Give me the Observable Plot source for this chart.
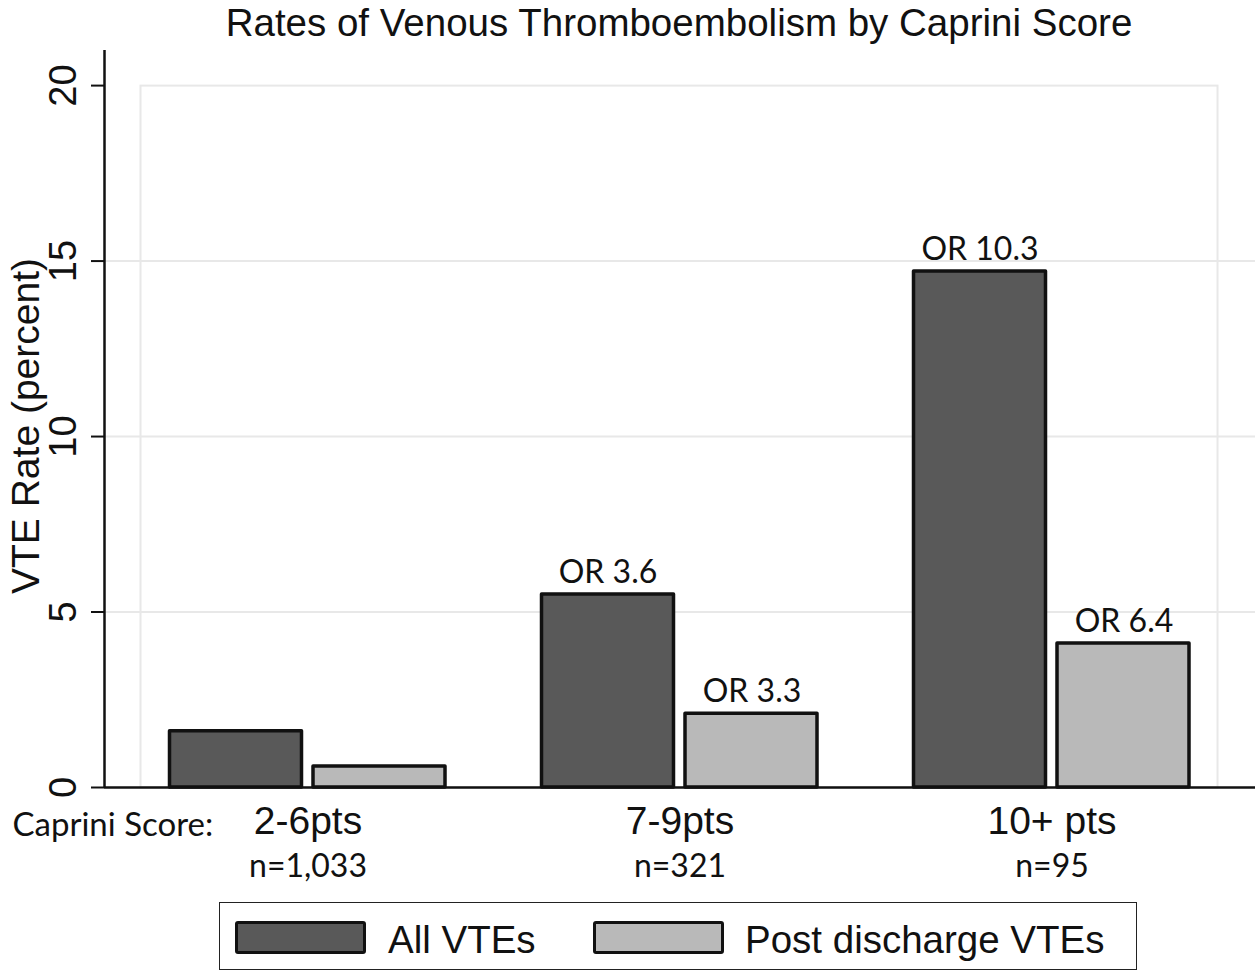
<!DOCTYPE html>
<html><head><meta charset="utf-8">
<script src="https://cdn.jsdelivr.net/npm/d3@7"></script>
<script src="https://cdn.jsdelivr.net/npm/@observablehq/plot@0.6"></script>
<style>
body{margin:0;background:#fff;width:1260px;overflow:hidden;}
#title{height:46px;line-height:46px;font-size:38.5px;font-family:"Liberation Sans",Arial,sans-serif;text-align:center;padding-left:98px;white-space:nowrap;color:#111;}
#chart svg{display:block;}
#legend{position:relative;height:80px;width:1260px;font-family:"Liberation Sans",Arial,sans-serif;}
#legend .box{position:absolute;left:219px;top:4px;width:918px;height:68px;border:1.5px solid #222;box-sizing:border-box;}
#legend .sw{position:absolute;top:23px;width:131px;height:33px;border:3.5px solid #111;border-radius:3px;box-sizing:border-box;}
#legend .lab{position:absolute;top:22.5px;font-size:38.5px;line-height:38.5px;white-space:nowrap;color:#111;}
</style></head><body>
<div id="title">Rates of Venous Thromboembolism by Caprini Score</div>
<div id="chart"></div>
<div id="legend"></div>
<script>
// ---- data ----
const groups = ["2-6pts", "7-9pts", "10+ pts"];
const groupN = ["n=1,033", "n=321", "n=95"];
const series = ["All VTEs", "Post discharge VTEs"];
const allVTE = [1.6, 5.5, 14.7];
const postVTE = [0.6, 2.1, 4.1];
const orAll = ["", "OR 3.6", "OR 10.3"];
const orPost = ["", "OR 3.3", "OR 6.4"];
const yTicks = [0, 5, 10, 15, 20];
const yLabel = "VTE Rate (percent)";
const xLead = "Caprini Score:";
const colors = ["#595959", "#b9b9b9"];

// ---- tables built from the arrays ----
const allRows = groups.map((g, i) => ({group: g, value: allVTE[i], or: orAll[i]}));
const postRows = groups.map((g, i) => ({group: g, value: postVTE[i], or: orPost[i]}));
const nRows = groups.map((g, i) => ({group: g, n: groupN[i]}));

const W = 1260, H = 852, ML = 104, MR = 5;
const sans = "'Liberation Sans', Arial, sans-serif";
const cal = "Lato, 'Open Sans', sans-serif";

const chart = Plot.plot({
  width: W, height: H,
  marginLeft: ML, marginRight: MR, marginTop: 4, marginBottom: 111,
  x: {domain: groups, paddingInner: 0.25, paddingOuter: 0.172, label: null},
  y: {domain: [0, 21], label: null},
  style: {fontFamily: sans, background: "white", color: "#111"},
  marks: [
    Plot.ruleY([5, 10, 15], {stroke: "#e8e8e8", strokeWidth: 2}),
    Plot.frame({stroke: "#e8e8e8", strokeWidth: 2, insetLeft: 36, insetRight: 38, insetTop: 35.1}),
    Plot.barY(allRows, {x: "group", y: "value", fill: colors[0], stroke: "#111", strokeWidth: 3.5, strokeLinejoin: "round", insetLeft: 1.5, insetRight: 145.5}),
    Plot.barY(postRows, {x: "group", y: "value", fill: colors[1], stroke: "#111", strokeWidth: 3.5, strokeLinejoin: "round", insetLeft: 145, insetRight: 2}),
    Plot.text(allRows.filter(d => d.or), {x: "group", y: "value", text: "or", dx: -72, dy: -11.5, lineAnchor: "bottom", fontFamily: cal, fontSize: 32, fill: "#111"}),
    Plot.text(postRows.filter(d => d.or), {x: "group", y: "value", text: "or", dx: 72, dy: -11.5, lineAnchor: "bottom", fontFamily: cal, fontSize: 32, fill: "#111"}),
    Plot.ruleY([0], {stroke: "#111", strokeWidth: 2.5}),
    Plot.ruleX([0], {x: null, y1: 0, y2: 21, stroke: "#111", strokeWidth: 2.5, dx: ML - (ML + W - MR) / 2}),
    Plot.axisY({ticks: yTicks, tickSize: 13, tickPadding: 16, tickRotate: -90, fontSize: 38, strokeWidth: 2, stroke: "#111", label: null}),
    Plot.axisX({tickSize: 0, tickPadding: 19, fontSize: 39, label: null}),
    Plot.text(nRows, {x: "group", text: "n", frameAnchor: "bottom", lineAnchor: "top", dy: 67, fontFamily: cal, fontSize: 32, fill: "#111"}),
    Plot.text([xLead], {frameAnchor: "bottom-left", textAnchor: "start", lineAnchor: "bottom", dx: -92, dy: 48, fontFamily: cal, fontSize: 33, fill: "#111"}),
    Plot.text([yLabel], {frameAnchor: "left", rotate: -90, textAnchor: "middle", lineAnchor: "bottom", dx: -66, dy: 7, fontSize: 39, fill: "#111"})
  ]
});
document.getElementById("chart").appendChild(chart);

// ---- legend ----
const lg = document.getElementById("legend");
const box = document.createElement("div"); box.className = "box"; lg.appendChild(box);
const swLeft = [235, 593], labLeft = [388, 745];
series.forEach((s, i) => {
  const sw = document.createElement("div");
  sw.className = "sw"; sw.style.left = swLeft[i] + "px"; sw.style.background = colors[i];
  lg.appendChild(sw);
  const lb = document.createElement("div");
  lb.className = "lab"; lb.style.left = labLeft[i] + "px"; lb.textContent = s;
  lg.appendChild(lb);
});
</script>
</body></html>
